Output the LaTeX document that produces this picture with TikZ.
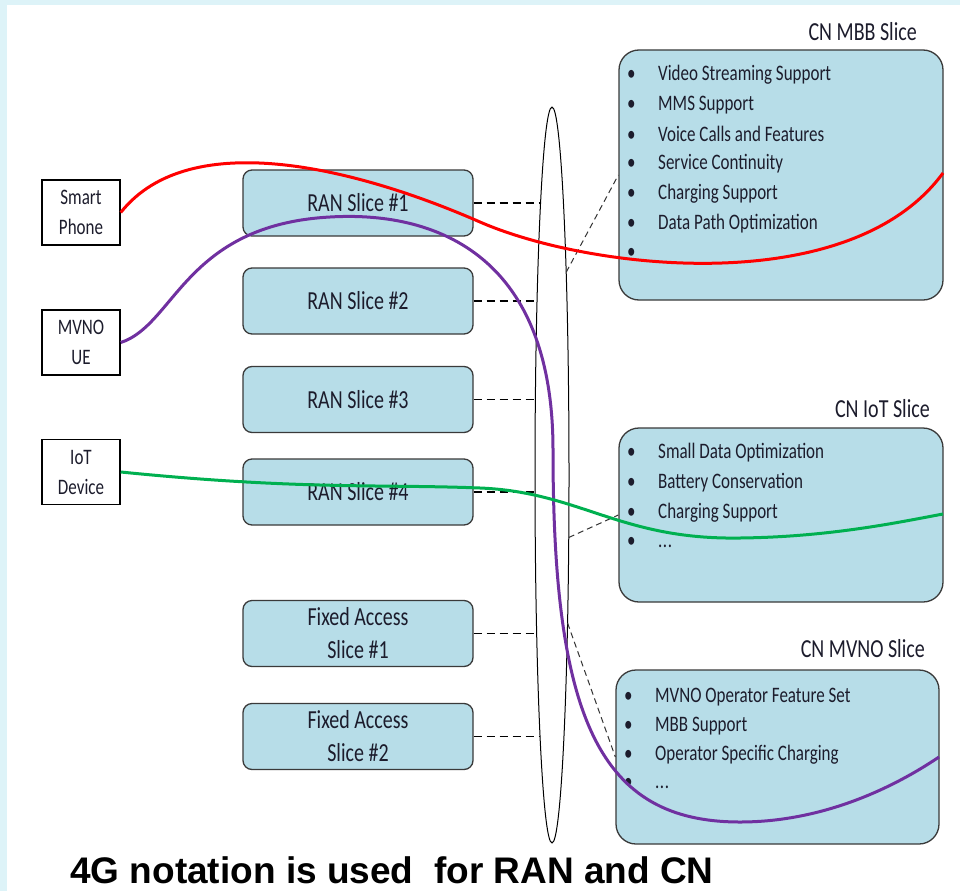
\documentclass[tikz,border=0pt]{standalone}
\usepackage{fontspec}
\setmainfont{Carlito}
\newfontfamily\notefont{Liberation Sans}
\usepackage{graphicx}
\usetikzlibrary{shapes.geometric, positioning}
\definecolor{colorFrame}{HTML}{DDF3F8}
\definecolor{colorSlice}{HTML}{B7DDE8}
\definecolor{colorEdge}{HTML}{3A3A3A}
\definecolor{colorText}{HTML}{1C1C2C}
\definecolor{colorMBB}{HTML}{FF0000}
\definecolor{colorMVNO}{HTML}{7030A0}
\definecolor{colorIoT}{HTML}{00B050}
\newcommand{\tallText}[1]{\scalebox{1}[1.3]{#1}}
\newcommand{\more}{.\kern0.5pt.\kern0.5pt.}
\tikzset{
  device/.style={draw=black, fill=white, line width=1.5pt, minimum width=78pt, minimum height=65pt, inner sep=0pt, align=center, font=\fontsize{17}{30}\selectfont, text=colorText},
  ranslice/.style={draw=colorEdge, fill=colorSlice, line width=1.3pt, rounded corners=9pt, minimum width=230pt, minimum height=66pt, inner sep=0pt, align=center, font=\fontsize{20}{33}\selectfont, text=colorText},
  cnslice/.style={draw=colorEdge, fill=colorSlice, line width=1.3pt, rounded corners=20pt, inner sep=0pt},
  cntitle/.style={inner sep=0pt, font=\fontsize{20}{24}\selectfont, text=colorText},
  feature/.style={anchor=west, inner sep=0pt, font=\fontsize{17}{20}\selectfont, text=colorText},
  tie/.style={draw=black, dash pattern=on 8pt off 5pt, line width=1.4pt},
  link/.style={draw=black!80, dash pattern=on 6pt off 4pt, line width=1pt},
  flow/.style={line width=3pt},
}

\begin{document}
\begin{tikzpicture}[x=1pt, y=-1pt]
\useasboundingbox (0,0) rectangle (960,891);
\fill[colorFrame] (0,0) rectangle (960,891);
\fill[white] (7,5) rectangle (960,891);

% access slices
\node[ranslice] (ran1) at (358,203) {\tallText{RAN Slice \#1}};
\node[ranslice] (ran2) at (358,301) {\tallText{RAN Slice \#2}};
\node[ranslice] (ran3) at (358,399.5) {\tallText{RAN Slice \#3}};
\node[ranslice] (ran4) at (358,492) {\tallText{RAN Slice \#4}};
\node[ranslice] (fa1) at (358,633.5) {\tallText{Fixed Access}\\\tallText{Slice \#1}};
\node[ranslice] (fa2) at (358,736.5) {\tallText{Fixed Access}\\\tallText{Slice \#2}};

% dashed ties, cut off by the oval
\foreach \s in {ran1, ran2, ran3, ran4, fa1, fa2}
  \draw[tie] (\s.east) -- ++(70,0);
\node[draw=black, fill=white, line width=1pt, ellipse, minimum width=34pt, minimum height=736pt, inner sep=0pt, outer sep=0pt] (oval) at (552,475) {};

% devices
\node[device] (sp) at (81,212.5) {\tallText{Smart}\\\tallText{Phone}};
\node[device] (ue) at (81,342.5) {\tallText{MVNO}\\\tallText{UE}};
\node[device] (iotdev) at (81,472) {\tallText{IoT}\\\tallText{Device}};

% core slices
\node[cnslice, minimum width=324pt, minimum height=250pt] (mbb) at (781,175) {};
\node[cnslice, minimum width=324pt, minimum height=174pt] (iot) at (781,515) {};
\node[cnslice, minimum width=323pt, minimum height=174pt] (mvno) at (777.5,757) {};
\node[cntitle, anchor=east] (mbbT) at (917,32) {\tallText{CN MBB Slice}};
\node[cntitle, anchor=east] (iotT) at (930,409) {\tallText{CN IoT Slice}};
\node[cntitle, anchor=east] (mvnoT) at (925,649) {\tallText{CN MVNO Slice}};

\foreach \txt [count=\i from 0] in {Video Streaming Support, MMS Support, Voice Calls and Features, Service Continuity, Charging Support, Data Path Optimization, {}}
  \node[feature] (mbb\i) at (627,75+29.7*\i) {\tallText{\makebox[31pt][l]{\textbullet}\txt}};
\foreach \txt [count=\i from 0] in {Small Data Optimization, Battery Conservation, Charging Support, \more}
  \node[feature] (iot\i) at (627,453+29.7*\i) {\tallText{\makebox[31pt][l]{\textbullet}\txt}};
\foreach \txt [count=\i from 0] in {MVNO Operator Feature Set, MBB Support, Operator Specific Charging, \more}
  \node[feature] (mvno\i) at (624,697+29*\i) {\tallText{\makebox[31pt][l]{\textbullet}\txt}};

\draw[link] (oval.86.3) -- (mbb.west);
\draw[link] (oval.-75) -- (iot.west);
\draw[link] (oval.-84.7) -- (mvno.west);

% flows
\coordinate (mbbIn) at (943,173);
\coordinate (iotIn) at (943,514);
\coordinate (mvnoIn) at (939,757);
\draw[flow, colorMBB] (sp.east) .. controls (190,125) and (359,169) .. (480,222)
  .. controls (590,270) and (850,300) .. (mbbIn);
\draw[flow, colorMVNO] (ue.east) .. controls (175,325) and (185,225) .. (330,217)
  .. controls (430,211) and (553,250) .. (553,450)
  .. controls (553,720) and (600,822) .. (740,822)
  .. controls (820,822) and (890,790) .. (mvnoIn);
\draw[flow, colorIoT] (iotdev.east) .. controls (300,490) and (380,484) .. (480,488)
  .. controls (580,492) and (620,540) .. (740,538)
  .. controls (830,537) and (900,522) .. (iotIn);

\node[anchor=base west, inner sep=0pt, font=\fontsize{37}{40}\notefont\bfseries\selectfont] (note) at (70,883) {4G notation is used\ \ for RAN and CN};
\end{tikzpicture}
\end{document}
